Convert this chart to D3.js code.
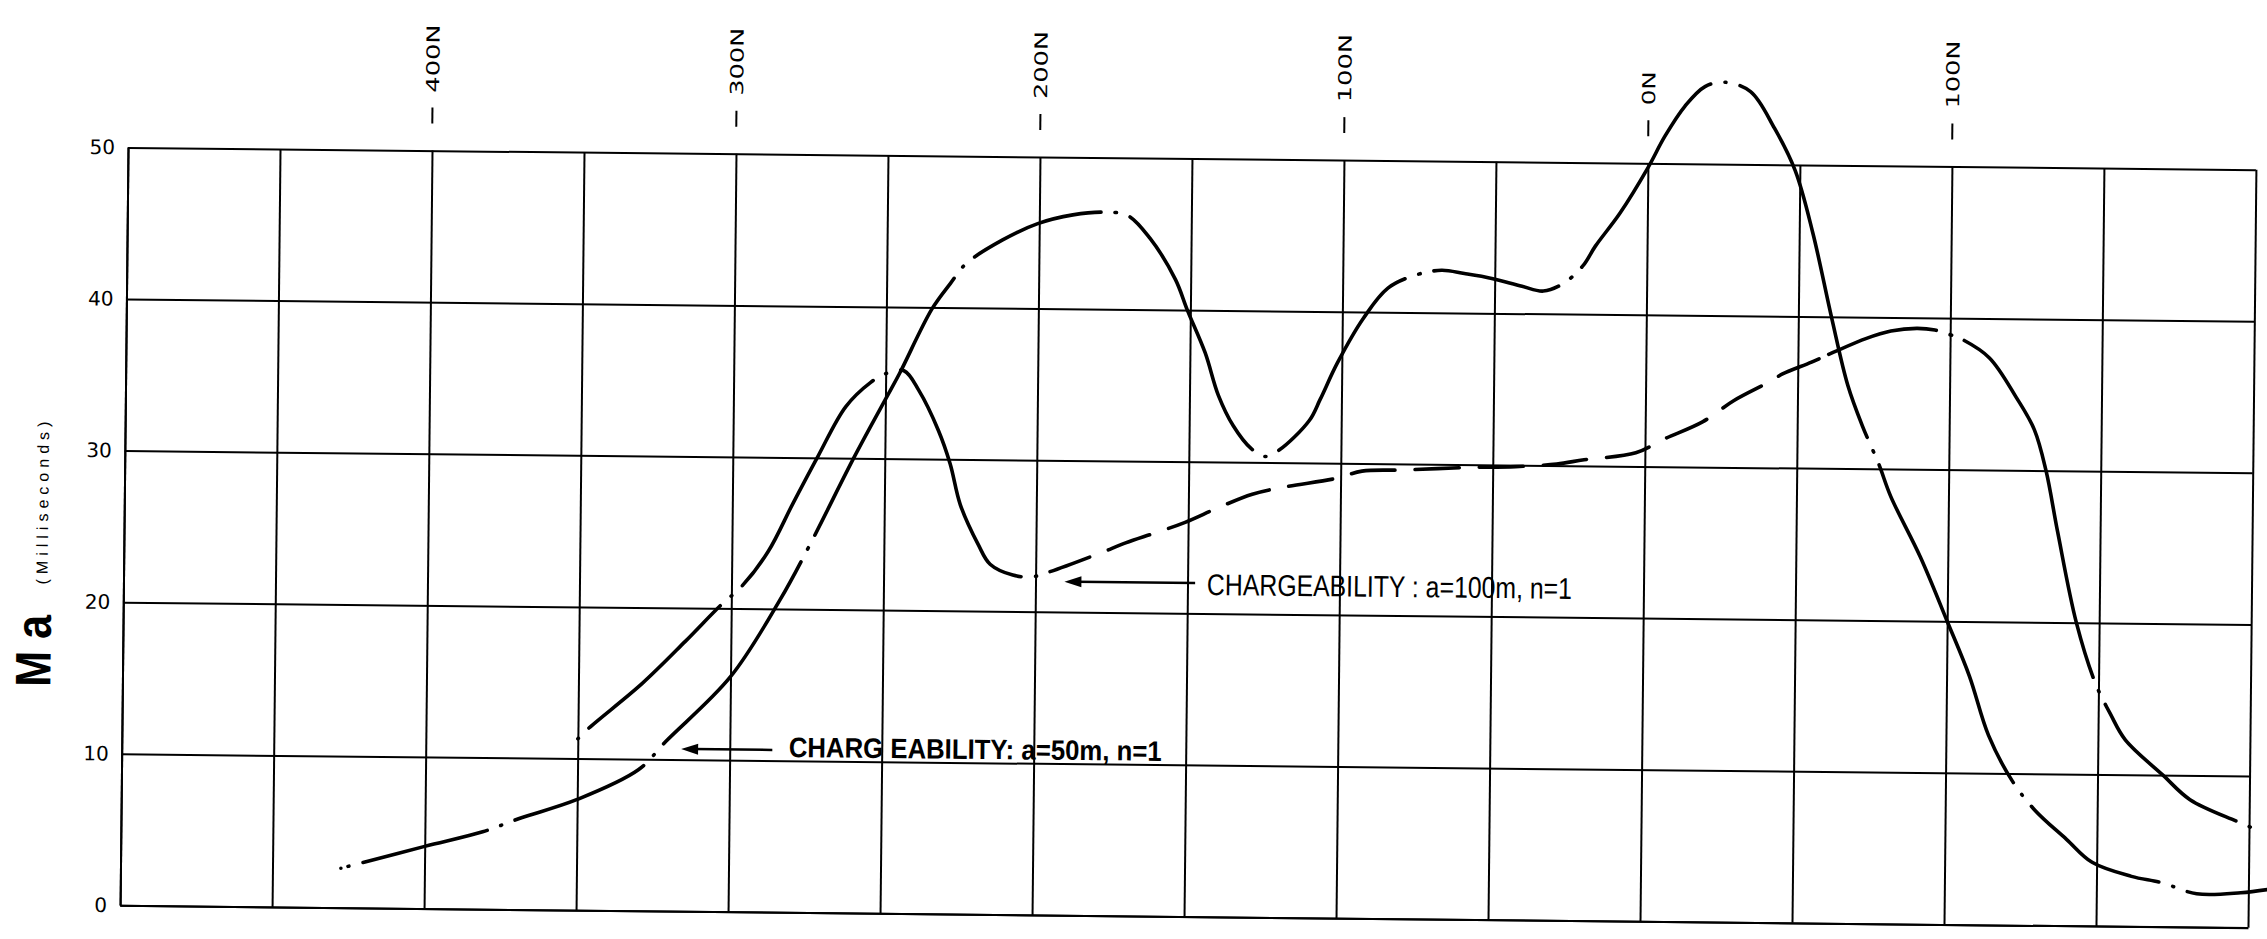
<!DOCTYPE html>
<html lang="en">
  <head>
    <meta charset="UTF-8" />
    <script src="https://d3js.org/d3.v7.min.js"></script>
    <title>Chargeability profile</title>
    <style>
      body { margin: 0; background: #fff; }
    </style>
  </head>
  <body>
    <div id="chart"></div>
    <script>
      // grid and labels
      const gridStations = [500, 450, 400, 350, 300, 250, 200, 150, 100, 50, 0, -50, -100, -150, -200]
      const yTicks = [0, 10, 20, 30, 40, 50]
      const topLabelStations = [400, 300, 200, 100, 0, -100]
      const topLabels = ['400N', '300N', '200N', '100N', '0N', '100N']

      // chargeability a=50m, n=1 (station in m, value in ms)
      const a50Station = [427.5, 422, 400, 381, 369, 350, 330, 321, 300, 284, 274.5, 260, 250, 245.5, 235, 229, 224, 212, 200.5, 189, 179, 171, 163.5, 155, 151, 145, 140.5, 135.5, 129.5, 125, 120.5, 110.5, 107, 101.5, 93, 85, 75.5, 67.5, 60, 51, 41, 34, 27.5, 21, 17, 9, 0, -5.5, -12, -18.5, -25, -33.5, -41.5, -48.5, -54.5, -61, -66.5, -71.5, -77, -81, -91, -100, -107.5, -114, -122, -129.5, -140, -148.5, -161.5, -171.5, -183, -197.5, -208.5]
      const a50Value = [2.6, 2.9, 4.1, 5.1, 6.0, 7.3, 9.3, 11.2, 15.5, 20.6, 24.2, 30.1, 33.9, 35.6, 39.9, 41.6, 42.9, 44.5, 45.6, 46.2, 46.4, 46.2, 44.7, 42.0, 40.0, 37.2, 34.4, 32.4, 30.9, 30.4, 30.8, 32.8, 34.2, 36.6, 39.6, 41.6, 42.5, 42.8, 42.6, 42.3, 41.8, 41.5, 42.0, 43.2, 44.5, 46.7, 49.7, 51.8, 53.8, 55.1, 55.4, 54.8, 52.4, 49.6, 45.5, 39.9, 35.5, 32.8, 30.3, 28.2, 24.2, 20.0, 16.4, 12.5, 9.5, 7.6, 5.7, 4.2, 3.3, 2.9, 2.2, 2.3, 2.6]

      // chargeability a=100m, n=1
      const a100Station = [350, 346.5, 329, 315, 303.5, 296.5, 288, 280, 272, 263, 255, 250, 244, 239, 232.5, 228.5, 225, 219, 215, 207.5, 201, 196, 179, 170.5, 160.5, 151, 140, 129, 118.5, 101.5, 93, 79.5, 59.5, 42.5, 29, 20, 3, -6, -19, -29, -41, -45, -54.5, -61, -72.5, -80.5, -89, -95, -100, -104, -113, -122, -128, -132, -136, -142.5, -149, -154, -159, -171.5, -180.5, -196, -202]
      const a100Value = [11.3, 12.0, 15.0, 17.8, 20.2, 21.5, 23.8, 27.0, 30.1, 33.4, 35.0, 35.6, 35.8, 34.5, 31.9, 29.7, 27.0, 24.4, 23.1, 22.4, 22.3, 22.6, 23.9, 24.6, 25.3, 26.0, 27.0, 27.9, 28.4, 29.0, 29.5, 29.6, 29.8, 29.9, 30.1, 30.4, 30.9, 31.8, 33.0, 34.4, 35.7, 36.2, 37.0, 37.6, 38.6, 39.1, 39.3, 39.2, 38.9, 38.6, 37.4, 34.8, 32.7, 30.0, 26.0, 20.0, 16.0, 14.0, 12.3, 10.0, 8.4, 7.0, 6.5]

      const width = 2267, height = 939
      const margin = { left: 124, top: 158.5 }
      const W = 2128, H = 758

      const svg = d3.select('#chart').append('svg')
        .attr('width', width)
        .attr('height', height)
      svg.append('rect').attr('width', width).attr('height', height).attr('fill', '#fff')

      // the scanned sheet sits slightly tilted
      const root = svg.append('g').attr('transform', 'rotate(0.6 1188 537.5)')
      const plot = root.append('g').attr('transform', `translate(${margin.left}, ${margin.top})`)

      const x = d3.scaleLinear().domain([500, -200]).range([0, W])
      const y = d3.scaleLinear().domain([0, 50]).range([H, 0])

      // vertical grid lines
      plot.append('g')
        .attr('transform', `translate(0, ${H})`)
        .call(d3.axisBottom(x).tickValues(gridStations).tickSize(-H).tickSizeOuter(0).tickFormat(''))
        .call(g => g.selectAll('line, path').attr('stroke', '#000').attr('stroke-width', 2))

      // horizontal grid lines + value labels
      plot.append('g')
        .call(d3.axisLeft(y).tickValues(yTicks).tickSize(-W).tickSizeOuter(0).tickPadding(13))
        .call(g => g.selectAll('line, path').attr('stroke', '#000').attr('stroke-width', 2))
        .call(g => g.selectAll('text')
          .attr('fill', '#000')
          .style('font-family', 'DejaVu Sans')
          .style('font-size', '20px'))

      // station labels above the grid
      const tops = plot.append('g').selectAll('g')
        .data(d3.zip(topLabelStations, topLabels))
        .join('g')
        .attr('transform', d => `translate(${x(d[0])}, 0)`)
      tops.append('line')
        .attr('y1', -27).attr('y2', -43)
        .attr('stroke', '#000').attr('stroke-width', 2)
      tops.append('text')
        .attr('transform', 'translate(0, -58) rotate(-90)')
        .attr('dy', '0.36em')
        .attr('text-anchor', 'start')
        .attr('textLength', d => d[1].length * 17)
        .attr('lengthAdjust', 'spacingAndGlyphs')
        .style('font-family', 'DejaVu Sans, sans-serif')
        .style('font-size', '18px')
        .text(d => d[1])

      // y title
      root.append('text')
        .attr('transform', 'translate(52, 663) rotate(-90)')
        .attr('text-anchor', 'middle')
        .attr('textLength', 72)
        .attr('lengthAdjust', 'spacingAndGlyphs')
        .style('font-family', 'Liberation Sans, Arial, sans-serif')
        .style('font-weight', 'bold')
        .style('font-size', '50px')
        .text('M a')
      root.append('text')
        .attr('transform', 'translate(48, 515) rotate(-90)')
        .attr('text-anchor', 'middle')
        .attr('textLength', 163)
        .attr('lengthAdjust', 'spacing')
        .style('font-family', 'Liberation Sans, Arial, sans-serif')
        .style('font-size', '16px')
        .text('(Milliseconds)')

      const line = d3.line()
        .x(d => x(d[0]))
        .y(d => y(d[1]))
        .curve(d3.curveCatmullRom.alpha(0.5))

      function lengthAtX(node, px) {
        let lo = 0, hi = node.getTotalLength()
        for (let i = 0; i < 40; i++) {
          const mid = (lo + hi) / 2
          if (node.getPointAtLength(mid).x < px) lo = mid
          else hi = mid
        }
        return (lo + hi) / 2
      }

      // hand-drawn style: long strokes broken by a dot, optional dashed stretch
      function dashArray(node, dotStations, dashStations) {
        const total = node.getTotalLength()
        const x0 = node.getPointAtLength(0).x, x1 = node.getPointAtLength(total).x
        const dots = dotStations.map(s => x(s))
          .filter(px => px >= x0 - 1 && px <= x1 + 1)
          .map(px => lengthAtX(node, px))
        const range = dashStations ? dashStations.map(s => lengthAtX(node, x(s))) : null
        const gap = 15, dash = 44, space = 20, step = 0.5
        const on = L => {
          for (const d of dots) {
            const e = Math.abs(L - d)
            if (e <= 0.6) return true
            if (e < gap) return false
          }
          if (range && L > range[0] && L < range[1]) return (L - range[0]) % (dash + space) < dash
          return true
        }
        const runs = []
        let cur = true, len = 0
        for (let L = 0; L <= total; L += step) {
          const s = on(L)
          if (s !== cur) { runs.push(len); len = 0; cur = s }
          len += step
        }
        runs.push(len)
        return runs.join(' ')
      }

      const curves = plot.append('g')
        .attr('fill', 'none')
        .attr('stroke', '#000')
        .attr('stroke-width', 3.6)
        .attr('stroke-linecap', 'round')
        .attr('stroke-linejoin', 'round')

      const pathA = curves.append('path').datum(d3.zip(a50Station, a50Value)).attr('d', line)
      pathA.attr('stroke-dasharray', dashArray(pathA.node(), d3.range(475, -200, -50)))

      const pathB = curves.append('path').datum(d3.zip(a100Station, a100Value)).attr('d', line)
      pathB.attr('stroke-dasharray', dashArray(pathB.node(), [350, 300, 250, 200, -100, -150, -200], [196, -60]))

      // annotations
      function arrow(fromS, toS, v) {
        const x1 = x(fromS), x2 = x(toS), yy = y(v)
        plot.append('line')
          .attr('x1', x1).attr('x2', x2 + 12).attr('y1', yy).attr('y2', yy)
          .attr('stroke', '#000').attr('stroke-width', 2.5)
        plot.append('path')
          .attr('d', `M${x2},${yy} L${x2 + 17},${yy - 5.5} L${x2 + 17},${yy + 5.5} Z`)
          .attr('fill', '#000')
      }

      arrow(147.5, 190.5, 22.0)
      plot.append('text')
        .attr('x', x(143.6)).attr('y', y(21.22))
        .attr('textLength', 365)
        .attr('lengthAdjust', 'spacingAndGlyphs')
        .style('font-family', 'Liberation Sans, Arial, sans-serif')
        .style('font-size', '30px')
        .text('CHARGEABILITY : a=100m, n=1')

      arrow(286, 316, 10.7)
      plot.append('text')
        .attr('x', x(280.6)).attr('y', y(10.25))
        .attr('textLength', 373)
        .attr('lengthAdjust', 'spacingAndGlyphs')
        .style('font-family', 'Liberation Sans, Arial, sans-serif')
        .style('font-weight', 'bold')
        .style('font-size', '28px')
        .text('CHARG EABILITY: a=50m, n=1')
    </script>
  </body>
</html>
